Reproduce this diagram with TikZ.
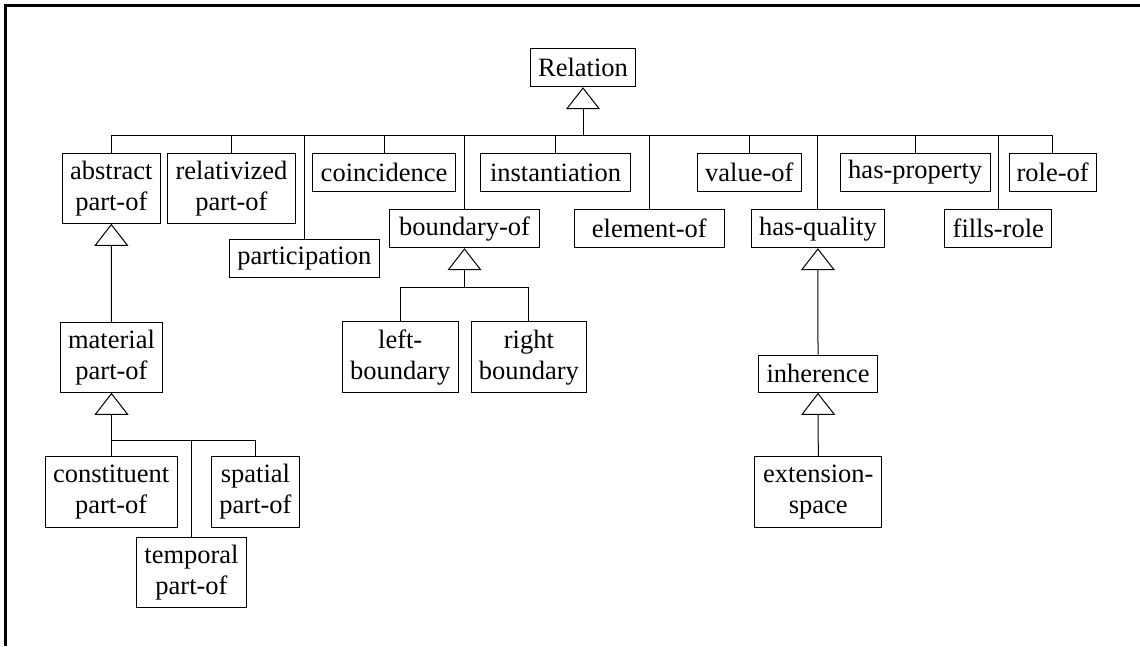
\documentclass[tikz,border=0pt]{standalone}
\usepackage{fontspec}
\setmainfont{Liberation Serif}
\usetikzlibrary{arrows.meta}
\tikzset{
  cls/.style={draw=black, line width=1pt, inner sep=0pt, align=center,
    font=\fontsize{26.5}{31}\selectfont},
  wire/.style={draw=black, line width=1pt},
  isa/.style={wire, -{Triangle[open, length=22pt, width=34pt, line width=1pt]}},
}
\newcommand{\cbox}[5]{\node[cls, minimum width=#3pt, minimum height=#4pt] (#1) at (#2) {#5};}
\begin{document}
\begin{tikzpicture}[x=1pt, y=-1pt]
\useasboundingbox (0,0) rectangle (1140,646);
% frame edges
\draw[line width=2.5pt] (5.7,646) -- (5.7,5.7) -- (1140,5.7);

% classes
\cbox{rel}{583,67.7}{105.4}{38}{Relation}
\cbox{abs}{111.3,188.5}{98}{69.6}{abstract\\part-of}
\cbox{relv}{231.5,188.5}{127.6}{69.6}{relativized\\part-of}
\cbox{coin}{384,172.5}{143.4}{37.6}{coincidence}
\cbox{part}{304.3,258.3}{150}{38}{participation}
\cbox{bnd}{464.5,228.7}{150.4}{38}{boundary-of}
\cbox{inst}{555.5,172.5}{150.4}{37.6}{instantiation}
\cbox{elem}{649.3,228.7}{150}{38}{element-of}
\cbox{val}{749.3,172.5}{104}{37.6}{value-of}
\cbox{hq}{817.9,228.7}{133.7}{38}{has-quality}
\cbox{hp}{915.2,172.5}{149.7}{37.6}{has-property}
\cbox{role}{1052.7,172.5}{87.3}{37.6}{role-of}
\cbox{fills}{998.3,228.7}{106.7}{38}{fills-role}
\cbox{mat}{111.5,357.3}{102.4}{70}{material\\part-of}
\cbox{cons}{111.2,492}{131.7}{70.6}{constituent\\part-of}
\cbox{temp}{191.5,572.3}{110.4}{70}{temporal\\part-of}
\cbox{spat}{255.5,492}{87.6}{70.6}{spatial\\part-of}
\cbox{lb}{400.2,357.3}{116.3}{70.7}{left-\\boundary}
\cbox{rb}{528.9,357.3}{115.7}{70.7}{right\\boundary}
\cbox{inh}{818,373.7}{118.6}{37.3}{inherence}
\cbox{ext}{818.3,492}{126.7}{70.6}{extension-\\space}

% junction points of the trees
\coordinate (busA) at (rel.south |- 0,135);
\coordinate (busB) at (mat.south |- 0,440.7);
\coordinate (busC) at (bnd.south |- 0,287.6);

% Relation and its direct specialisations
\draw[isa] (busA) -- (rel.south);
\draw[wire] (abs.north |- busA) -- (role.north |- busA);
\foreach \n in {abs,relv,part,coin,bnd,inst,elem,val,hq,hp,fills,role}
  \draw[wire] (\n.north) -- (\n.north |- busA);

% part-of branch
\draw[isa] (mat.north) -- (abs.south);
\draw[isa] (busB) -- (mat.south);
\draw[wire] (cons.north |- busB) -- (spat.north |- busB);
\foreach \n in {cons,temp,spat}
  \draw[wire] (\n.north) -- (\n.north |- busB);

% boundary branch
\draw[isa] (busC) -- (bnd.south);
\draw[wire] (lb.north |- busC) -- (rb.north |- busC);
\foreach \n in {lb,rb}
  \draw[wire] (\n.north) -- (\n.north |- busC);

% quality branch
\draw[isa] (inh.north) -- (hq.south);
\draw[isa] (ext.north) -- (inh.south);
\end{tikzpicture}
\end{document}
